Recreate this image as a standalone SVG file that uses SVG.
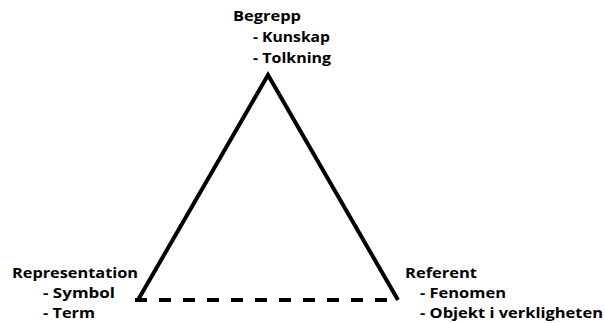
<svg xmlns="http://www.w3.org/2000/svg" width="605" height="323" viewBox="0 0 605 323">
  <style>
    .lbl { font-family: "Open Sans", "Liberation Sans", sans-serif; font-weight: 700; font-size: 15px; fill: #000; }
    .edge { stroke: #000; stroke-width: 4; fill: none; stroke-linecap: butt; stroke-linejoin: miter; }
    .dash { stroke-dasharray: 12 12; }
  </style>
  <rect width="605" height="323" fill="#fff"/>
  <g id="connectors">
    <path class="edge" d="M138,300 L268,75 L398,300"/>
    <line class="edge dash" x1="135" y1="300" x2="399" y2="300"/>
  </g>
  <g id="begrepp">
    <text class="lbl" x="233" y="21" textLength="68" lengthAdjust="spacingAndGlyphs">Begrepp</text>
    <text class="lbl" x="253" y="42" textLength="77" lengthAdjust="spacingAndGlyphs">- Kunskap</text>
    <text class="lbl" x="253" y="63" textLength="78" lengthAdjust="spacingAndGlyphs">- Tolkning</text>
  </g>
  <g id="representation">
    <text class="lbl" x="12" y="278" textLength="126" lengthAdjust="spacingAndGlyphs">Representation</text>
    <text class="lbl" x="43" y="298" textLength="72" lengthAdjust="spacingAndGlyphs">- Symbol</text>
    <text class="lbl" x="43" y="318" textLength="52" lengthAdjust="spacingAndGlyphs">- Term</text>
  </g>
  <g id="referent">
    <text class="lbl" x="405" y="278" textLength="72" lengthAdjust="spacingAndGlyphs">Referent</text>
    <text class="lbl" x="420" y="298" textLength="86" lengthAdjust="spacingAndGlyphs">- Fenomen</text>
    <text class="lbl" x="420" y="318" textLength="183" lengthAdjust="spacingAndGlyphs">- Objekt i verkligheten</text>
  </g>
</svg>
